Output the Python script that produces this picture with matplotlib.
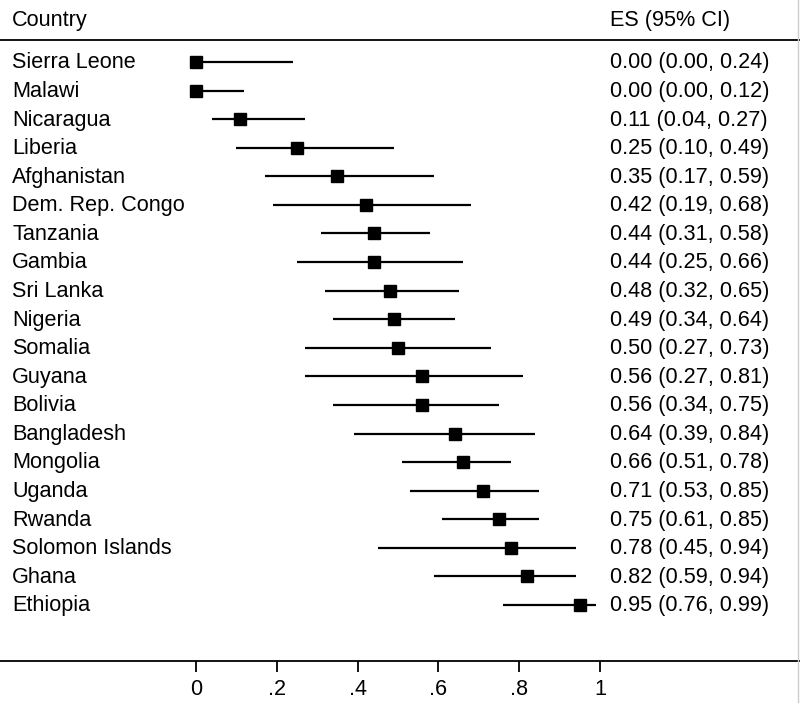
import matplotlib.pyplot as plt
from matplotlib.lines import Line2D

plt.rcParams['font.family'] = ['Liberation Sans', 'DejaVu Sans']

# Data
countries = ['Sierra Leone', 'Malawi', 'Nicaragua', 'Liberia', 'Afghanistan',
             'Dem. Rep. Congo', 'Tanzania', 'Gambia', 'Sri Lanka', 'Nigeria',
             'Somalia', 'Guyana', 'Bolivia', 'Bangladesh', 'Mongolia',
             'Uganda', 'Rwanda', 'Solomon Islands', 'Ghana', 'Ethiopia']
es = [0.00, 0.00, 0.11, 0.25, 0.35, 0.42, 0.44, 0.44, 0.48, 0.49,
      0.50, 0.56, 0.56, 0.64, 0.66, 0.71, 0.75, 0.78, 0.82, 0.95]
lower = [0.00, 0.00, 0.04, 0.10, 0.17, 0.19, 0.31, 0.25, 0.32, 0.34,
         0.27, 0.27, 0.34, 0.39, 0.51, 0.53, 0.61, 0.45, 0.59, 0.76]
upper = [0.24, 0.12, 0.27, 0.49, 0.59, 0.68, 0.58, 0.66, 0.65, 0.64,
         0.73, 0.81, 0.75, 0.84, 0.78, 0.85, 0.85, 0.94, 0.94, 0.99]
xticks = [0, 0.2, 0.4, 0.6, 0.8, 1.0]
xtick_labels = ['0', '.2', '.4', '.6', '.8', '1']

fig = plt.figure(figsize=(8, 7.03), dpi=100)
ax = fig.add_axes([0, 0, 1, 1])

# x: value 0 sits at 196 px, value 1 at 600 px; y: one unit per row
ax.set_xlim(-196 / 404, 604 / 404)
ax.set_ylim(22.43, -2.17)

fs = 15.6
rows = range(len(countries))
for i in rows:
    ax.plot([lower[i], upper[i]], [i, i], color='black', lw=1.6, solid_capstyle='butt')
    ax.plot(es[i], i, marker='s', color='black', markersize=9)
    ax.text(-0.455, i + 0.03, countries[i], fontsize=fs, va='center', ha='left')
    ax.text(1.025, i + 0.03, f'{es[i]:.2f} ({lower[i]:.2f}, {upper[i]:.2f})',
            fontsize=fs, va='center', ha='left')

# headers and top rule
ax.text(-0.455, -1.47, 'Country', fontsize=fs, va='center', ha='left')
ax.text(1.025, -1.47, 'ES (95% CI)', fontsize=fs, va='center', ha='left')
ax.axhline(-0.77, color='black', lw=1.3)

# bottom axis
for s in ['top', 'left', 'right']:
    ax.spines[s].set_visible(False)
ax.spines['bottom'].set_position(('data', 20.96))
ax.spines['bottom'].set_linewidth(1.3)
ax.set_yticks([])
ax.set_xticks(xticks)
ax.set_xticklabels(xtick_labels)
ax.tick_params(axis='x', direction='out', length=8, width=1.3, pad=5, labelsize=fs)

# faint right border
fig.add_artist(Line2D([0.998, 0.998], [0, 1], color='#cccccc', lw=1))

fig.savefig('out.png', dpi=100)
